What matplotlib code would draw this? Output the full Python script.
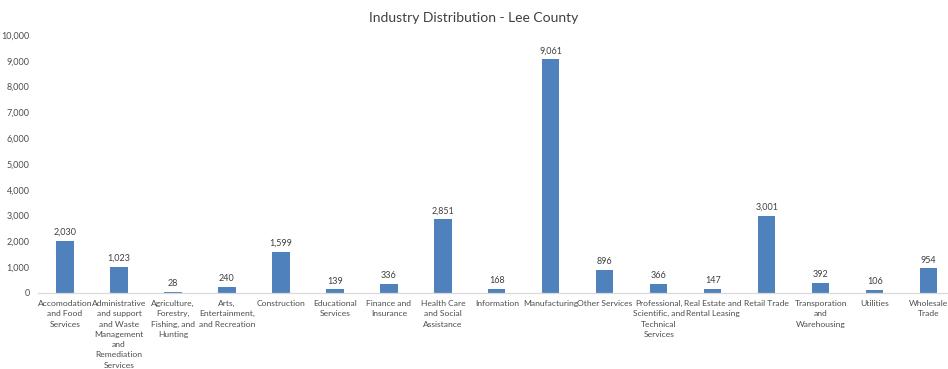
import matplotlib
matplotlib.use("Agg")
import matplotlib.pyplot as plt

plt.rcParams['font.family'] = ['Lato', 'DejaVu Sans']

# industry categories (wrapped as on the axis) and employee counts
industries = [
    "Accomodation\nand Food\nServices",
    "Administrative\nand support\nand Waste\nManagement\nand\nRemediation\nServices",
    "Agriculture,\nForestry,\nFishing, and\nHunting",
    "Arts,\nEntertainment,\nand Recreation",
    "Construction",
    "Educational\nServices",
    "Finance and\nInsurance",
    "Health Care\nand Social\nAssistance",
    "Information",
    "Manufacturing",
    "Other Services",
    "Professional,\nScientific, and\nTechnical\nServices",
    "Real Estate and\nRental Leasing",
    "Retail Trade",
    "Transporation\nand\nWarehousing",
    "Utilities",
    "Wholesale\nTrade",
]
employees = [2030, 1023, 28, 240, 1599, 139, 336, 2851, 168, 9061,
             896, 366, 147, 3001, 392, 106, 954]
y_ticks = list(range(0, 10001, 1000))

bar_color = "#4F81BD"
text_color = "#4D4D4D"

fig = plt.figure(figsize=(9.48, 3.69), dpi=100)
ax = fig.add_axes([0.0401, 0.206, 0.968, 0.699])

x = list(range(len(industries)))
bars = ax.bar(x, employees, width=0.32, color=bar_color)

for xi, v in zip(x, employees):
    ax.text(xi, v + 150, f"{v:,}", ha="center", va="bottom",
            fontsize=6.5, color="#404040")

ax.set_xlim(-0.5, len(industries) - 0.5)
ax.set_ylim(0, 10000)
ax.set_yticks(y_ticks)
ax.set_yticklabels([f"{t:,}" for t in y_ticks], fontsize=6.5, color=text_color)
ax.set_xticks(x)
ax.set_xticklabels(industries, fontsize=6.1, color=text_color, linespacing=1.55,
                   va="top")
ax.tick_params(axis="both", length=0)
ax.tick_params(axis="x", pad=5)
ax.tick_params(axis="y", pad=6)

for side in ["top", "right", "left"]:
    ax.spines[side].set_visible(False)
ax.spines["bottom"].set_color("#D9D9D9")
ax.spines["bottom"].set_linewidth(0.9)

fig.text(0.5, 0.952, "Industry Distribution - Lee County", ha="center",
         va="center", fontsize=10, color="#404040")

fig.savefig("out.png", dpi=100)
